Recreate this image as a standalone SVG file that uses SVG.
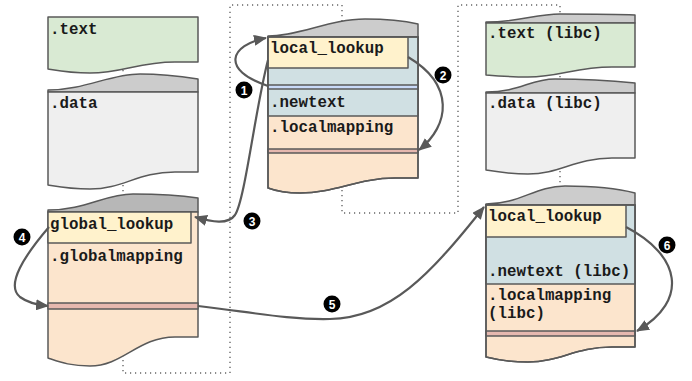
<svg xmlns="http://www.w3.org/2000/svg" width="692" height="381" viewBox="0 0 692 381">
<style>
.sh{stroke:#595959;stroke-width:1.5;stroke-linejoin:round}
.ol{fill:none;stroke:#595959;stroke-width:1.5;stroke-linejoin:round}
.cap{fill:#cccccc}
.capd{fill:#b7b7b7}
.green{fill:#d9ead3}
.grey{fill:#efefef}
.orange{fill:#fce5cd}
.blue{fill:#d0e0e3}
.yellow{fill:#fff2cc}
.bstripe{fill:#c9daf8}
.pstripe{fill:#e6b8af}
.t{font-family:"Liberation Mono","Courier New",monospace;font-weight:bold;font-size:15.8px;fill:#1a1a1a}
.conn{fill:none;stroke:#595959;stroke-width:2.2}
.dot{fill:none;stroke:#666;stroke-width:1.4;stroke-dasharray:1.2 3.8}
.badge circle{fill:#000}
.badge text{font-family:"Liberation Sans",Arial,sans-serif;font-weight:bold;font-size:12px;fill:#fff;text-anchor:middle}
</style>
<defs>
<marker id="ah" markerUnits="userSpaceOnUse" viewBox="0 0 13 11" markerWidth="13" markerHeight="11" refX="12" refY="5.5" orient="auto">
<path d="M0,0 L13,5.5 L0,11 Z" fill="#595959"/>
</marker>
</defs>

<path class="dot" d="M123,40 V373 H230 V5 H342 V213 H458 V5 H560 V210"/>

<g id="text">
<path class="sh green" d="M48,17 H198 V62 H175 C138,62 123,73 90,73 C70,73 60,71 48,69 Z"/>
<text class="t" x="50" y="34">.text</text>
</g>

<g id="data">
<path class="sh cap" d="M48,92 V90 C85,90 110,74 140,74 C165,74 185,77 198,79 V92 Z"/>
<path class="sh grey" d="M48,92 H198 V172 H175 C138,172 123,189 90,189 C70,189 60,187 48,185 Z"/>
<text class="t" x="50" y="108">.data</text>
</g>

<g id="global">
<path class="sh capd" d="M48,212 V210 C85,210 105,194 133,194 C160,194 185,196 198,198 V212 Z"/>
<path class="sh orange" d="M48,212 H198 V337 H175 C138,337 123,366 90,366 C70,366 60,362 48,358 Z"/>
<rect class="sh pstripe" x="48" y="303" width="150" height="6"/>
<rect class="sh yellow" x="48" y="212" width="143" height="31"/>
<text class="t" x="50" y="229">global_lookup</text>
<text class="t" x="50" y="261">.globalmapping</text>
</g>

<g id="middle">
<path class="sh cap" d="M268,37 V36 C300,36 330,19 365,19 C390,19 405,21 418,24 V37 Z"/>
<path class="sh orange" d="M268,37 H418 V178 H395 C358,178 335,193 300,193 C285,193 276,191 268,188 Z"/>
<rect class="sh blue" x="268" y="37" width="150" height="79"/>
<rect class="sh bstripe" x="268" y="85" width="150" height="4"/>
<rect class="sh pstripe" x="268" y="149" width="150" height="4"/>
<rect class="sh yellow" x="268" y="37" width="140" height="31"/>
<text class="t" x="270" y="53">local_lookup</text>
<text class="t" x="270" y="107">.newtext</text>
<text class="t" x="270" y="132">.localmapping</text>
<path class="ol" d="M268,37 H418 V178 H395 C358,178 335,193 300,193 C285,193 276,191 268,188 Z"/>
</g>

<g id="text-libc">
<path class="sh cap" d="M486,23 V22 C520,22 535,14 560,14 C590,14 615,14 635,15 V23 Z"/>
<path class="sh green" d="M486,23 H635 V67 H612 C575,67 560,77 528,77 C510,77 498,76 486,75 Z"/>
<text class="t" x="488" y="38">.text (libc)</text>
</g>

<g id="data-libc">
<path class="sh cap" d="M486,93 V92 C520,92 530,79 555,79 C585,79 615,81 635,83 V93 Z"/>
<path class="sh grey" d="M486,93 H635 V158 H612 C575,158 560,174 528,174 C510,174 498,172 486,170 Z"/>
<text class="t" x="488" y="108">.data (libc)</text>
</g>

<g id="local-libc">
<path class="sh cap" d="M486,205 V204 C520,204 535,186 565,186 C595,186 620,189 635,193 V205 Z"/>
<path class="sh orange" d="M486,205 H635 V347 H612 C575,347 560,362 528,362 C510,362 498,360 486,357 Z"/>
<rect class="sh blue" x="486" y="205" width="149" height="79"/>
<rect class="sh pstripe" x="486" y="331" width="149" height="5"/>
<rect class="sh yellow" x="486" y="205" width="140" height="32"/>
<text class="t" x="488" y="221">local_lookup</text>
<text class="t" x="488" y="276">.newtext (libc)</text>
<text class="t" x="488" y="300">.localmapping</text>
<text class="t" x="488" y="318">(libc)</text>
<path class="ol" d="M486,205 H635 V347 H612 C575,347 560,362 528,362 C510,362 498,360 486,357 Z"/>
</g>

<g id="connectors">
<path class="conn" marker-end="url(#ah)" d="M268,86 C220,70 230,45 266,38"/>
<path class="conn" marker-end="url(#ah)" d="M408,57 C455,85 450,125 419,150"/>
<path class="conn" marker-end="url(#ah)" d="M268,60 C255,110 245,200 235,215 C228,225 212,222 195,217"/>
<path class="conn" marker-end="url(#ah)" d="M49,227 C25,255 5,285 20,297 C28,303 38,305 48,306"/>
<path class="conn" marker-end="url(#ah)" d="M198,306 C250,312 290,320 330,319 C390,318 430,275 484,207"/>
<path class="conn" marker-end="url(#ah)" d="M626,227 C680,255 690,300 637,331"/>
</g>

<g id="badges" class="badge">
<circle cx="244" cy="90" r="8.5"/><text x="244" y="94.5">1</text>
<circle cx="443" cy="75" r="8.5"/><text x="443" y="79.5">2</text>
<circle cx="252" cy="221" r="8.5"/><text x="252" y="225.5">3</text>
<circle cx="22" cy="237" r="8.5"/><text x="22" y="241.5">4</text>
<circle cx="332" cy="304" r="8.5"/><text x="332" y="308.5">5</text>
<circle cx="667" cy="245" r="8.5"/><text x="667" y="249.5">6</text>
</g>
</svg>
